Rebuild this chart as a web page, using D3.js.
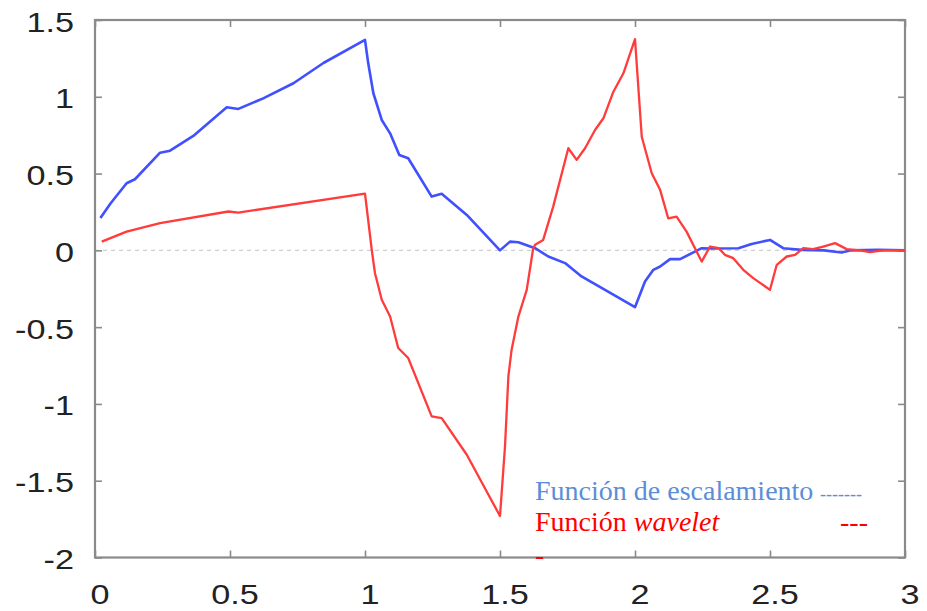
<!DOCTYPE html>
<html><head><meta charset="utf-8">
<script src="https://cdn.jsdelivr.net/npm/d3@7"></script>
<style>html,body{margin:0;padding:0;background:#fff;}svg{display:block;}</style>
</head><body>
<svg id="chart" width="927" height="611"></svg>
<script>
// ---- data ----
const xTicks = [0, 0.5, 1, 1.5, 2, 2.5, 3];
const xTickLabels = ["0", "0.5", "1", "1.5", "2", "2.5", "3"];
const yTicks = [1.5, 1, 0.5, 0, -0.5, -1, -1.5, -2];
const yTickLabels = ["1.5", "1", "0.5", "0", "-0.5", "-1", "-1.5", "-2"];

// scaling function (blue)
const phiX = [0.02,0.058,0.117,0.148,0.241,0.278,0.364,0.488,0.531,0.623,0.735,0.846,1.0,1.012,1.031,1.062,1.093,1.127,1.160,1.247,1.284,1.377,1.5,1.537,1.568,1.630,1.679,1.741,1.802,1.889,2.0,2.037,2.068,2.093,2.130,2.167,2.247,2.284,2.383,2.432,2.5,2.549,2.617,2.70,2.765,2.80,2.9,3.0];
const phiY = [0.21,0.307,0.437,0.463,0.636,0.649,0.745,0.932,0.921,0.990,1.088,1.22,1.37,1.218,1.023,0.849,0.762,0.621,0.600,0.350,0.368,0.231,0.0,0.057,0.053,0.014,-0.04,-0.083,-0.17,-0.257,-0.37,-0.203,-0.127,-0.105,-0.057,-0.057,0.014,0.012,0.014,0.042,0.068,0.014,0.003,0.0,-0.014,0.0,0.003,0.0];

// wavelet function (red)
const psiX = [0.025,0.117,0.241,0.494,0.531,1.0,1.025,1.037,1.062,1.093,1.123,1.160,1.247,1.284,1.377,1.5,1.5185,1.531,1.543,1.568,1.599,1.623,1.630,1.660,1.697,1.753,1.784,1.815,1.852,1.883,1.920,1.957,2.0,2.025,2.062,2.093,2.123,2.154,2.191,2.247,2.278,2.31,2.333,2.364,2.401,2.438,2.5,2.525,2.562,2.593,2.623,2.66,2.697,2.741,2.784,2.833,2.87,2.92,3.0];
const psiY = [0.057,0.122,0.177,0.253,0.246,0.37,0.003,-0.149,-0.322,-0.431,-0.636,-0.701,-1.081,-1.092,-1.331,-1.73,-1.277,-0.821,-0.647,-0.431,-0.257,0.014,0.036,0.068,0.285,0.665,0.589,0.665,0.784,0.860,1.033,1.153,1.375,0.740,0.502,0.394,0.209,0.220,0.122,-0.073,0.025,0.014,-0.029,-0.051,-0.127,-0.181,-0.257,-0.094,-0.040,-0.029,0.014,0.008,0.025,0.047,0.008,0.0,-0.012,0.0,0.0];

const legendLines = ["Función de escalamiento", "Función ", "wavelet"];

// ---- drawing ----
(function () {
const svg = d3.select("#chart");
svg.append("rect").attr("width", 927).attr("height", 611).attr("fill", "#fff");

const mLeft = 95, mRight = 905, mTop = 20, mBottom = 557.5;
const x = d3.scaleLinear().domain([0, 3]).range([mLeft, mRight]);
const y = d3.scaleLinear().domain([-2, 1.5]).range([mBottom, mTop]);

const frameColor = "#8a8a8a";

// zero line
svg.append("line")
  .attr("x1", x(0)).attr("x2", x(3)).attr("y1", y(0)).attr("y2", y(0))
  .attr("stroke", "#cfcfcf").attr("stroke-width", 1.2).attr("stroke-dasharray", "4,4");

// axes with inward ticks
const tickLen = 7;
const gBottom = svg.append("g").attr("transform", `translate(0,${mBottom})`)
  .call(d3.axisBottom(x).tickValues(xTicks).tickSize(-tickLen).tickFormat(""));
const gTop = svg.append("g").attr("transform", `translate(0,${mTop})`)
  .call(d3.axisTop(x).tickValues(xTicks).tickSize(-tickLen).tickFormat(""));
const gLeft = svg.append("g").attr("transform", `translate(${mLeft},0)`)
  .call(d3.axisLeft(y).tickValues(yTicks).tickSize(-tickLen).tickFormat(""));
const gRight = svg.append("g").attr("transform", `translate(${mRight},0)`)
  .call(d3.axisRight(y).tickValues(yTicks).tickSize(-tickLen).tickFormat(""));
[gBottom, gTop, gLeft, gRight].forEach(g => {
  g.select(".domain").remove();
  g.selectAll(".tick line").attr("stroke", frameColor).attr("stroke-width", 1.6);
});

// frame
svg.append("rect").attr("x", mLeft).attr("y", mTop)
  .attr("width", mRight - mLeft).attr("height", mBottom - mTop)
  .attr("fill", "none").attr("stroke", frameColor).attr("stroke-width", 2.2);

// tick labels
const labFont = "'Liberation Sans', Arial, Helvetica, sans-serif";
const labSize = 28.5, sx = 1.2;
xTicks.forEach((t, i) => {
  svg.append("text")
    .attr("transform", `translate(${x(t) + 5},${mBottom + 46}) scale(${sx},1)`)
    .attr("text-anchor", "middle")
    .attr("font-family", labFont).attr("font-size", labSize).attr("fill", "#222")
    .text(xTickLabels[i]);
});
yTicks.forEach((t, i) => {
  svg.append("text")
    .attr("transform", `translate(74,${y(t) + 11.5}) scale(${sx},1)`)
    .attr("text-anchor", "end")
    .attr("font-family", labFont).attr("font-size", labSize).attr("fill", "#222")
    .text(yTickLabels[i]);
});

// curves
const line = d3.line().x(d => x(d[0])).y(d => y(d[1]));
svg.append("path").datum(phiX.map((v, i) => [v, phiY[i]]))
  .attr("d", line).attr("fill", "none").attr("stroke", "#4150ff")
  .attr("stroke-width", 2.6).attr("stroke-linejoin", "round");
svg.append("path").datum(psiX.map((v, i) => [v, psiY[i]]))
  .attr("d", line).attr("fill", "none").attr("stroke", "#ff3b3b")
  .attr("stroke-width", 2.3).attr("stroke-linejoin", "round");

// legend text
const serif = "'Liberation Serif', 'Times New Roman', serif";
svg.append("text").attr("x", 535).attr("y", 499.5)
  .attr("font-family", serif).attr("font-size", 28).attr("fill", "#5a8ed8")
  .text(legendLines[0]);
svg.append("text").attr("x", 820).attr("y", 499.5)
  .attr("font-family", serif).attr("font-size", 18).attr("fill", "#5a8ed8")
  .text("-------");
const t2 = svg.append("text").attr("x", 535).attr("y", 531)
  .attr("font-family", serif).attr("font-size", 28).attr("fill", "#ff0000");
t2.append("tspan").text(legendLines[1]);
t2.append("tspan").attr("font-style", "italic").text(legendLines[2]);
svg.append("text").attr("x", 840).attr("y", 531)
  .attr("font-family", serif).attr("font-size", 28).attr("fill", "#ff0000")
  .text("---");
svg.append("text").attr("x", 535).attr("y", 563.5)
  .attr("font-family", serif).attr("font-size", 28).attr("fill", "#ff0000")
  .text("-");
})();
</script>
</body></html>
